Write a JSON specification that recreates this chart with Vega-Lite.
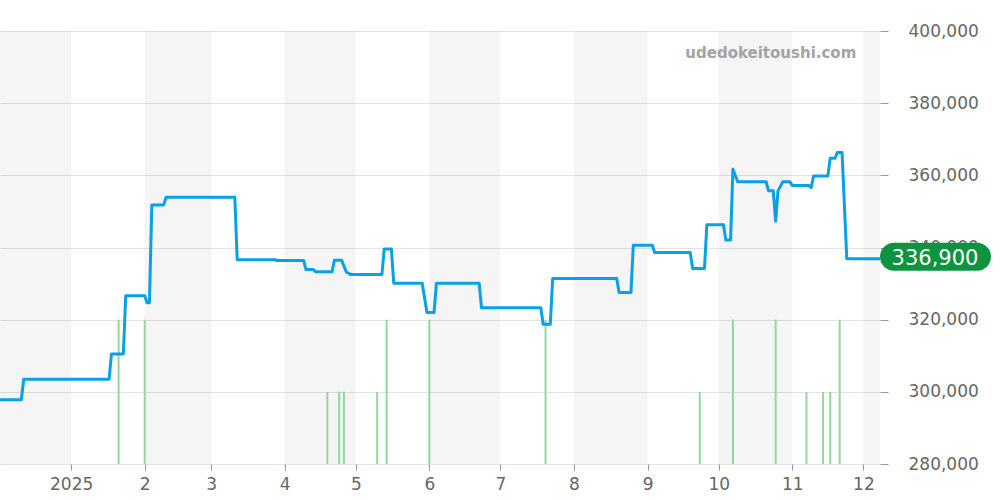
{
  "$schema": "https://vega.github.io/schema/vega-lite/v6.json",
  "width": 880,
  "height": 433,
  "autosize": {"type": "none"},
  "padding": {"left": 0, "top": 31, "right": 120, "bottom": 36},
  "background": "white",
  "config": {"font": "DejaVu Sans", "view": {"stroke": null}},
  "datasets": {
    "bands": [
      {"date": "2024-12-01T00:00", "end": "2025-01-01T00:00"},
      {"date": "2025-02-01T00:00", "end": "2025-03-01T00:00"},
      {"date": "2025-04-01T00:00", "end": "2025-05-01T00:00"},
      {"date": "2025-06-01T00:00", "end": "2025-07-01T00:00"},
      {"date": "2025-08-01T00:00", "end": "2025-09-01T00:00"},
      {"date": "2025-10-01T00:00", "end": "2025-11-01T00:00"},
      {"date": "2025-12-01T00:00", "end": "2026-01-01T00:00"}
    ],
    "volume": [
      {"date": "2025-01-21T00:00", "volume": 2},
      {"date": "2025-02-01T00:00", "volume": 2},
      {"date": "2025-04-19T00:00", "volume": 1},
      {"date": "2025-04-24T00:00", "volume": 1},
      {"date": "2025-04-26T00:00", "volume": 1},
      {"date": "2025-05-10T00:00", "volume": 1},
      {"date": "2025-05-14T00:00", "volume": 2},
      {"date": "2025-06-01T00:00", "volume": 2},
      {"date": "2025-07-20T00:00", "volume": 2},
      {"date": "2025-09-23T00:00", "volume": 1},
      {"date": "2025-10-07T00:00", "volume": 2},
      {"date": "2025-10-25T00:00", "volume": 2},
      {"date": "2025-11-07T00:00", "volume": 1},
      {"date": "2025-11-14T00:00", "volume": 1},
      {"date": "2025-11-17T00:00", "volume": 1},
      {"date": "2025-11-21T00:00", "volume": 2}
    ],
    "price": [
      {"date": "2024-12-02T00:00", "price": 297800},
      {"date": "2024-12-11T00:00", "price": 297800},
      {"date": "2024-12-12T00:00", "price": 303500},
      {"date": "2025-01-17T00:00", "price": 303500},
      {"date": "2025-01-18T00:00", "price": 310500},
      {"date": "2025-01-23T00:00", "price": 310500},
      {"date": "2025-01-24T00:00", "price": 326600},
      {"date": "2025-02-01T00:00", "price": 326600},
      {"date": "2025-02-02T00:00", "price": 324700},
      {"date": "2025-02-03T00:00", "price": 324700},
      {"date": "2025-02-04T00:00", "price": 351800},
      {"date": "2025-02-09T00:00", "price": 351800},
      {"date": "2025-02-10T00:00", "price": 353900},
      {"date": "2025-03-11T00:00", "price": 353900},
      {"date": "2025-03-12T00:00", "price": 336600},
      {"date": "2025-03-28T00:00", "price": 336600},
      {"date": "2025-03-29T00:00", "price": 336400},
      {"date": "2025-04-09T00:00", "price": 336400},
      {"date": "2025-04-10T00:00", "price": 333900},
      {"date": "2025-04-13T00:00", "price": 333900},
      {"date": "2025-04-14T00:00", "price": 333300},
      {"date": "2025-04-21T00:00", "price": 333300},
      {"date": "2025-04-22T00:00", "price": 336500},
      {"date": "2025-04-25T00:00", "price": 336500},
      {"date": "2025-04-27T00:00", "price": 333200},
      {"date": "2025-04-29T00:00", "price": 332500},
      {"date": "2025-05-12T00:00", "price": 332500},
      {"date": "2025-05-13T00:00", "price": 339600},
      {"date": "2025-05-16T00:00", "price": 339600},
      {"date": "2025-05-17T00:00", "price": 330100},
      {"date": "2025-05-29T00:00", "price": 330100},
      {"date": "2025-05-31T00:00", "price": 322000},
      {"date": "2025-06-03T00:00", "price": 322000},
      {"date": "2025-06-04T00:00", "price": 330100},
      {"date": "2025-06-22T00:00", "price": 330100},
      {"date": "2025-06-23T00:00", "price": 323300},
      {"date": "2025-07-18T00:00", "price": 323300},
      {"date": "2025-07-19T00:00", "price": 318700},
      {"date": "2025-07-22T00:00", "price": 318700},
      {"date": "2025-07-23T00:00", "price": 331400},
      {"date": "2025-08-19T00:00", "price": 331400},
      {"date": "2025-08-20T00:00", "price": 327500},
      {"date": "2025-08-25T00:00", "price": 327500},
      {"date": "2025-08-26T00:00", "price": 340600},
      {"date": "2025-09-03T00:00", "price": 340600},
      {"date": "2025-09-04T00:00", "price": 338600},
      {"date": "2025-09-19T00:00", "price": 338600},
      {"date": "2025-09-20T00:00", "price": 334200},
      {"date": "2025-09-25T00:00", "price": 334200},
      {"date": "2025-09-26T00:00", "price": 346300},
      {"date": "2025-10-03T00:00", "price": 346300},
      {"date": "2025-10-04T00:00", "price": 342100},
      {"date": "2025-10-06T00:00", "price": 342100},
      {"date": "2025-10-07T00:00", "price": 361700},
      {"date": "2025-10-09T00:00", "price": 358200},
      {"date": "2025-10-21T00:00", "price": 358200},
      {"date": "2025-10-22T00:00", "price": 355700},
      {"date": "2025-10-24T00:00", "price": 355700},
      {"date": "2025-10-25T00:00", "price": 347300},
      {"date": "2025-10-26T00:00", "price": 355700},
      {"date": "2025-10-28T00:00", "price": 358200},
      {"date": "2025-10-31T00:00", "price": 358200},
      {"date": "2025-11-01T00:00", "price": 357200},
      {"date": "2025-11-08T00:00", "price": 357200},
      {"date": "2025-11-09T00:00", "price": 356600},
      {"date": "2025-11-10T00:00", "price": 359800},
      {"date": "2025-11-16T00:00", "price": 359800},
      {"date": "2025-11-17T00:00", "price": 364700},
      {"date": "2025-11-19T00:00", "price": 364700},
      {"date": "2025-11-20T00:00", "price": 366300},
      {"date": "2025-11-22T00:00", "price": 366300},
      {"date": "2025-11-24T00:00", "price": 336900},
      {"date": "2025-12-08T00:00", "price": 336900}
    ]
  },
  "encoding": {
    "x": {
      "field": "date",
      "type": "temporal",
      "title": null,
      "scale": {"domain": [{"year": 2024, "month": 12, "date": 2}, {"year": 2025, "month": 12, "date": 8}]},
      "axis": {
        "labelExpr": "month(datum.value) == 0 ? timeFormat(datum.value, '%Y') : timeFormat(datum.value, '%-m')",
        "tickCount": {"interval": "month", "step": 1},
        "grid": false,
        "domain": false,
        "labelFontSize": 17,
        "labelColor": "#666666",
        "tickColor": "#999999",
        "tickSize": 6,
        "labelPadding": 6,
        "labelFlush": false,
        "labelOverlap": false
      }
    }
  },
  "layer": [
    {
      "layer": [
        {
          "data": {"name": "bands"},
          "mark": {"type": "rect", "color": "#000000", "opacity": 0.04, "clip": true},
          "encoding": {"x2": {"field": "end"}}
        },
        {
          "data": {"values": [{}]},
          "mark": {"type": "rule", "color": "#93d89b", "strokeWidth": 1.5, "strokeDash": [1.2, 1.2]},
          "encoding": {
            "x": {"datum": {"year": 2024, "month": 12, "date": 2}},
            "x2": {"datum": {"year": 2025, "month": 12, "date": 5}},
            "y": {"datum": 0, "type": "quantitative", "scale": {"domain": [0, 6]}, "axis": null}
          }
        },
        {
          "data": {"name": "volume"},
          "mark": {"type": "rule", "color": "#93d89b", "strokeWidth": 2},
          "encoding": {
            "y": {"field": "volume", "type": "quantitative", "scale": {"domain": [0, 6]}, "axis": null},
            "y2": {"datum": 0}
          }
        }
      ]
    },
    {
      "layer": [
        {
          "data": {"name": "price"},
          "mark": {"type": "line", "color": "#08a0e6", "strokeWidth": 3, "strokeJoin": "round"},
          "encoding": {
            "y": {
              "field": "price",
              "type": "quantitative",
              "title": null,
              "scale": {"domain": [280000, 400000], "nice": false, "zero": false},
              "axis": {
                "orient": "right",
                "values": [280000, 300000, 320000, 340000, 360000, 380000, 400000],
                "labelExpr": "format(datum.value, ',.0f')",
                "labelFontSize": 17,
                "labelColor": "#666666",
                "tickColor": "#999999",
                "tickSize": 8,
                "labelPadding": 20,
                "domain": false,
                "grid": true,
                "gridColor": "#e2e2e2",
                "labelFlush": false
              }
            }
          }
        },
        {
          "data": {"name": "price"},
          "transform": [{"filter": {"field": "date", "equal": {"year": 2025, "month": 11, "date": 20}}}],
          "mark": {"type": "text", "text": "udedokeitoushi.com", "fontWeight": "bold", "fontSize": 15, "color": "#a3a3a3", "align": "right", "baseline": "middle", "dx": 19, "dy": 1},
          "encoding": {
            "y": {"datum": 394200, "type": "quantitative"}
          }
        },
        {
          "data": {"name": "price"},
          "transform": [{"filter": {"field": "date", "equal": {"year": 2025, "month": 12, "date": 8}}}],
          "mark": {"type": "rect", "color": "#0e9440", "cornerRadius": 14, "x2Offset": 111, "yOffset": -16, "y2Offset": 12},
          "encoding": {
            "x2": {"field": "date"},
            "y": {"field": "price", "type": "quantitative"},
            "y2": {"field": "price"}
          }
        },
        {
          "data": {"name": "price"},
          "transform": [{"filter": {"field": "date", "equal": {"year": 2025, "month": 12, "date": 8}}}],
          "mark": {"type": "text", "color": "#ffffff", "fontSize": 21, "align": "center", "baseline": "middle", "dx": 55, "dy": 0},
          "encoding": {
            "y": {"field": "price", "type": "quantitative"},
            "text": {"field": "price", "type": "quantitative", "format": ","}
          }
        }
      ]
    }
  ],
  "resolve": {"scale": {"y": "independent"}}
}
